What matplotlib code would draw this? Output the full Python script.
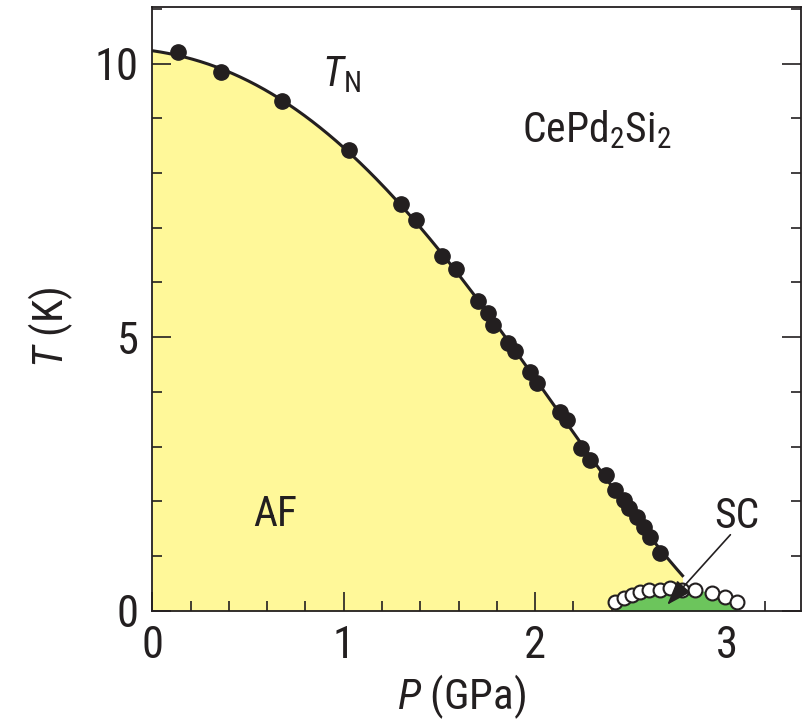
import numpy as np
import matplotlib
matplotlib.use("Agg")
import matplotlib.pyplot as plt
from matplotlib import font_manager
from matplotlib.ticker import MultipleLocator

# Neel temperature points (filled circles)
tn_p = [0.134, 0.359, 0.679, 1.025, 1.298, 1.377, 1.513, 1.586, 1.702, 1.754,
        1.780, 1.859, 1.896, 1.974, 2.011, 2.131, 2.168, 2.242, 2.284, 2.368,
        2.415, 2.462, 2.488, 2.530, 2.567, 2.598, 2.650]
tn_t = [10.21, 9.84, 9.31, 8.43, 7.43, 7.15, 6.49, 6.24, 5.67, 5.45,
        5.23, 4.90, 4.74, 4.37, 4.17, 3.64, 3.48, 2.98, 2.76, 2.49,
        2.21, 2.03, 1.88, 1.72, 1.54, 1.34, 1.06]

# superconducting transition points (open circles)
sc_p = [2.415, 2.462, 2.504, 2.546, 2.593, 2.650, 2.703, 2.766, 2.834, 2.923, 2.991, 3.054]
sc_t = [0.165, 0.24, 0.29, 0.35, 0.38, 0.38, 0.42, 0.38, 0.38, 0.33, 0.26, 0.165]

tn_zero = 10.22   # T_N at ambient pressure (flat start of the line)
tn_end_p = 2.77   # where the T_N line runs into the SC dome

# pick a narrow sans font if there is one
names = set(f.name for f in font_manager.fontManager.ttflist)
narrow = [n for n in ['Liberation Sans Narrow', 'DejaVu Sans Condensed', 'Roboto Condensed',
                      'Open Sans Condensed', 'Noto Sans Condensed'] if n in names]
fam = narrow[0] if narrow else 'Liberation Sans'
stretch = 'normal' if narrow else 'condensed'

plt.rcParams['font.family'] = [fam, 'DejaVu Sans']
plt.rcParams['mathtext.fontset'] = 'custom'
plt.rcParams['mathtext.rm'] = fam
plt.rcParams['mathtext.it'] = fam + ':italic'

fig = plt.figure(figsize=(8.02, 7.28), dpi=100)
ax = fig.add_axes([0.19, 0.161, 0.809, 0.829])

# smooth guide lines through the data
fit_p = [0.0] + tn_p
fit_t = [tn_zero] + tn_t
tn_fit = np.polyfit(fit_p, fit_t, 4)
p_line = np.linspace(0, tn_end_p, 200)
t_line = np.polyval(tn_fit, p_line)

sc_fit = np.polyfit(sc_p, sc_t, 2)
p_dome = np.linspace(sc_p[0], sc_p[-1], 100)
t_dome = np.clip(np.polyval(sc_fit, p_dome), 0, None)

ax.fill_between(p_line, 0, t_line, color='#fff899', lw=0, zorder=1)
ax.fill_between(p_dome, 0, t_dome, color='#6cc55c', lw=0, zorder=2)
ax.plot(p_line, t_line, color='#231f20', lw=2.2, zorder=3)
ax.plot(tn_p, tn_t, 'o', color='#231f20', ms=11, zorder=4)
ax.plot(sc_p, sc_t, 'o', mfc='white', mec='#231f20', mew=1.5, ms=10, zorder=5)

ax.annotate('', xy=(2.69, 0.11), xytext=(3.02, 1.39),
            arrowprops=dict(arrowstyle='-|>,head_length=0.7,head_width=0.25',
                            mutation_scale=22, color='#231f20', lw=1.2,
                            shrinkA=0, shrinkB=0),
            zorder=6)

txt = dict(fontsize=30, ha='center', va='center', color='#231f20', stretch=stretch)
ax.text(3.055, 1.72, 'SC', **txt)
ax.text(0.99, 9.8, r'$T_{\rm N}$', **txt)
ax.text(2.32, 8.8, r'CePd$_2$Si$_2$', **txt)
ax.text(0.64, 1.76, 'AF', **txt)

ax.set_xlim(0, 3.39)
ax.set_ylim(0, 11.03)
ax.xaxis.set_major_locator(MultipleLocator(1))
ax.xaxis.set_minor_locator(MultipleLocator(0.2))
ax.yaxis.set_major_locator(MultipleLocator(5))
ax.yaxis.set_minor_locator(MultipleLocator(1))
ax.tick_params(which='both', direction='in', top=False, right=True,
               labelsize=32, color='#231f20', labelcolor='#231f20', width=1.2)
ax.tick_params(which='major', length=14, pad=10)
ax.tick_params(which='minor', length=7)
for s in ax.spines.values():
    s.set_linewidth(1.3)
    s.set_color('#231f20')

ax.set_xlabel(r'$P$ (GPa)', fontsize=31, color='#231f20', labelpad=4)
ax.set_ylabel(r'$T$ (K)', fontsize=31, color='#231f20', labelpad=14)
ax.xaxis.label.set_x(0.477)
ax.yaxis.label.set_y(0.47)

fig.savefig('out.png', dpi=100)
